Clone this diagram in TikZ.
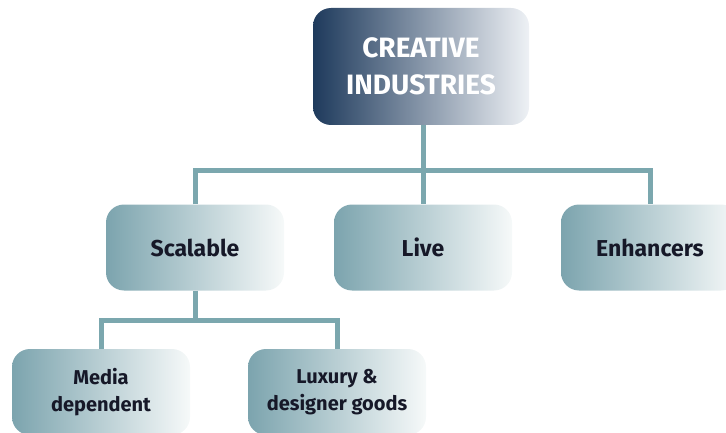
\documentclass[tikz,border=0pt]{standalone}
\usepackage{fontspec}
\setmainfont{Fira Sans}
\usetikzlibrary{calc}
\definecolor{CINavy}{RGB}{30,58,92}
\definecolor{CIMist}{RGB}{238,241,245}
\definecolor{CITeal}{RGB}{124,164,174}
\definecolor{CIFoam}{RGB}{246,249,249}
\definecolor{CILink}{RGB}{123,167,174}
\definecolor{CIInk}{RGB}{22,24,40}
\tikzset{
  sector/.style={rounded corners=18pt,minimum width=178pt,minimum height=86pt,
    left color=CITeal,right color=CIFoam,align=center,text=CIInk,
    font=\bfseries\fontsize{23}{27}\selectfont},
  subsector/.style={sector,font=\bfseries\fontsize{20}{27}\selectfont},
  root/.style={sector,minimum width=216pt,minimum height=117pt,
    left color=CINavy,right color=CIMist,text=white,
    font=\bfseries\fontsize{28}{37}\selectfont},
  link/.style={CILink,line width=5pt,line join=miter}
}

\begin{document}
\begin{tikzpicture}[x=1pt,y=1pt]
  \useasboundingbox (0,0) rectangle (726,432);

  % Boxes
  \node[root] (ci) at (421,365.5) {CREATIVE\\INDUSTRIES};
  \node[sector] (scal) at (195,184.5) {Scalable};
  \node[sector] (live) at (423,184.5) {Live};
  \node[sector] (enh) at (650,184.5) {Enhancers};
  \node[subsector] (media) at (101,40) {Media\\dependent};
  \node[subsector] (lux) at (337,40) {Luxury \&\\designer goods};

  % Bus lines
  \coordinate (busA) at (0,262);
  \coordinate (busB) at (0,112);

  % Top level
  \draw[link] (ci.south -| live.north) -- (live.north);
  \draw[link] (scal.north) |- (busA -| enh.north) -- (enh.north);

  % Below Scalable
  \draw[link] (scal.south) -- (scal.south |- busB);
  \draw[link] (media.north) |- (busB -| lux.north) -- (lux.north);
\end{tikzpicture}
\end{document}
